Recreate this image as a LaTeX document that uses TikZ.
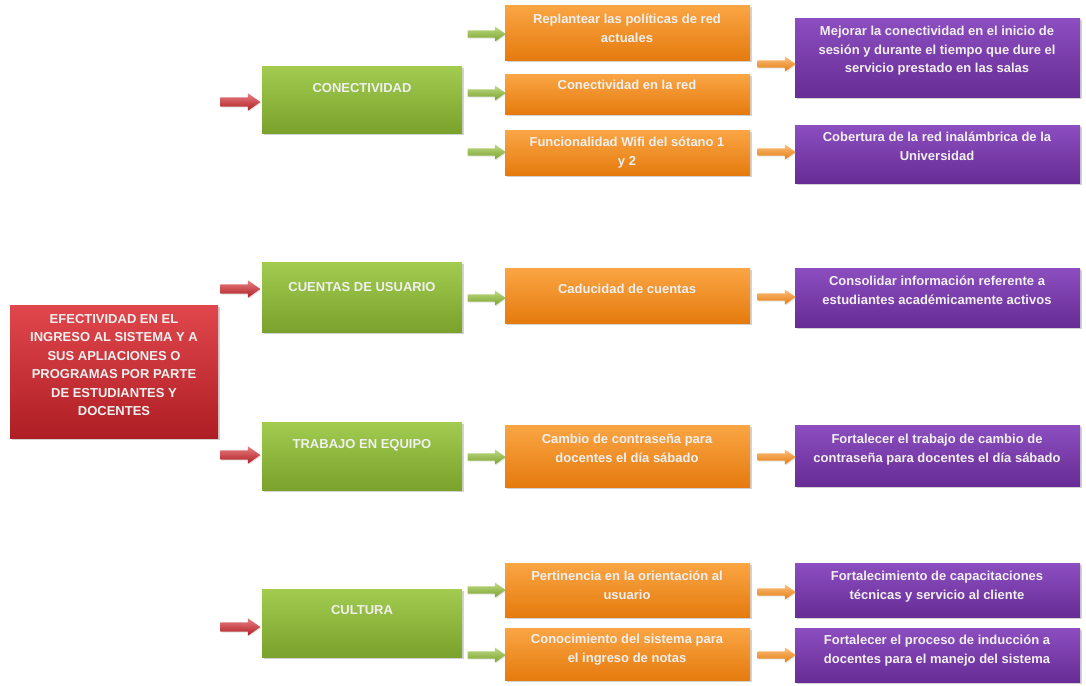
\documentclass[tikz,border=0pt]{standalone}
\usepackage{fontspec}
\setmainfont{Liberation Sans}
\usetikzlibrary{shapes.arrows,shadows}
\definecolor{redA}{HTML}{E0474C}
\definecolor{redB}{HTML}{AE1E24}
\definecolor{grnA}{HTML}{A2CB50}
\definecolor{grnB}{HTML}{7AA22C}
\definecolor{orgA}{HTML}{FAA544}
\definecolor{orgB}{HTML}{E57B0E}
\definecolor{purA}{HTML}{8C4EC0}
\definecolor{purB}{HTML}{672C95}
\tikzset{
  box/.style={rectangle, inner sep=0pt, anchor=north west,
    drop shadow={opacity=0.35, shadow xshift=2pt, shadow yshift=-2pt}},
  redbox/.style={box, top color=redA, bottom color=redB},
  grnbox/.style={box, top color=grnA, bottom color=grnB},
  orgbox/.style={box, top color=orgA, bottom color=orgB},
  purbox/.style={box, top color=purA, bottom color=purB},
  txt/.style={font=\bfseries\fontsize{13}{18.5}\selectfont, text=white!94!black,
    align=center, anchor=north, inner sep=0pt},
  arr/.style={single arrow, inner xsep=0pt, inner ysep=3.5pt, minimum height=38pt,
    single arrow head extend=3.8pt, single arrow head indent=0pt,
    single arrow tip angle=70, anchor=center,
    drop shadow={opacity=0.2, shadow xshift=1pt, shadow yshift=-1pt}},
  redarr/.style={arr, inner ysep=4.5pt, minimum height=40pt, single arrow head extend=4pt,
    top color=redA!70, bottom color=redB},
  grnarr/.style={arr, top color=grnA!70, bottom color=grnB},
  orgarr/.style={arr, top color=orgA!70, bottom color=orgB},
}
\begin{document}
\begin{tikzpicture}[x=1pt,y=-1pt]
\useasboundingbox[fill=white] (0,0) rectangle (1086,685);

% main red box
\node[redbox, minimum width=208pt, minimum height=133pt] (main) at (10,305) {};
\node[txt] (maint) at (114,314) {EFECTIVIDAD EN EL\\INGRESO AL SISTEMA Y A\\SUS APLIACIONES O\\PROGRAMAS POR PARTE\\DE ESTUDIANTES Y\\DOCENTES};

% green boxes
\node[grnbox, minimum width=200pt, minimum height=67pt] (g1) at (262,66) {};
\node[txt] (g1t) at (362,83) {CONECTIVIDAD};
\node[grnbox, minimum width=200pt, minimum height=70pt] (g2) at (262,262) {};
\node[txt] (g2t) at (362,282) {CUENTAS DE USUARIO};
\node[grnbox, minimum width=200pt, minimum height=68pt] (g3) at (262,422) {};
\node[txt] (g3t) at (362,439) {TRABAJO EN EQUIPO};
\node[grnbox, minimum width=200pt, minimum height=68pt] (g4) at (262,589) {};
\node[txt] (g4t) at (362,605) {CULTURA};

% red arrows
\node[redarr] (ra1) at (237,102) {};
\node[redarr] (ra2) at (237,289) {};
\node[redarr] (ra3) at (237,455) {};
\node[redarr] (ra4) at (237,627) {};

% orange boxes
\node[orgbox, minimum width=245pt, minimum height=55pt] (o1) at (505,5) {};
\node[txt] (o1t) at (627,14) {Replantear las políticas de red\\actuales};
\node[orgbox, minimum width=245pt, minimum height=40pt] (o2) at (505,74) {};
\node[txt] (o2t) at (627,80) {Conectividad en la red};
\node[orgbox, minimum width=245pt, minimum height=45pt] (o3) at (505,130) {};
\node[txt] (o3t) at (627,137) {Funcionalidad Wifi del sótano 1\\y 2};
\node[orgbox, minimum width=245pt, minimum height=55pt] (o4) at (505,268) {};
\node[txt] (o4t) at (627,284) {Caducidad de cuentas};
\node[orgbox, minimum width=245pt, minimum height=62pt] (o5) at (505,425) {};
\node[txt] (o5t) at (627,434) {Cambio de contraseña para\\docentes el día sábado};
\node[orgbox, minimum width=245pt, minimum height=54pt] (o6) at (505,563) {};
\node[txt] (o6t) at (627,571) {Pertinencia en la orientación al\\usuario};
\node[orgbox, minimum width=245pt, minimum height=52pt] (o7) at (505,628) {};
\node[txt] (o7t) at (627,634) {Conocimiento del sistema para\\el ingreso de notas};

% green arrows
\node[grnarr] (ga1) at (484,34) {};
\node[grnarr] (ga2) at (484,93) {};
\node[grnarr] (ga3) at (484,152) {};
\node[grnarr] (ga4) at (484,298) {};
\node[grnarr] (ga5) at (484,457) {};
\node[grnarr] (ga6) at (484,590) {};
\node[grnarr] (ga7) at (484,655) {};

% purple boxes
\node[purbox, minimum width=285pt, minimum height=79pt] (p1) at (795,18) {};
\node[txt] (p1t) at (937,26) {Mejorar la conectividad en el inicio de\\sesión y durante el tiempo que dure el\\servicio prestado en las salas};
\node[purbox, minimum width=285pt, minimum height=58pt] (p2) at (795,125) {};
\node[txt] (p2t) at (937,132) {Cobertura de la red inalámbrica de la\\Universidad};
\node[purbox, minimum width=285pt, minimum height=59pt] (p3) at (795,268) {};
\node[txt] (p3t) at (937,276) {Consolidar información referente a\\estudiantes académicamente activos};
\node[purbox, minimum width=285pt, minimum height=61pt] (p4) at (795,425) {};
\node[txt] (p4t) at (937,434) {Fortalecer el trabajo de cambio de\\contraseña para docentes el día sábado};
\node[purbox, minimum width=285pt, minimum height=54pt] (p5) at (795,563) {};
\node[txt] (p5t) at (937,571) {Fortalecimiento de capacitaciones\\técnicas y servicio al cliente};
\node[purbox, minimum width=285pt, minimum height=54pt] (p6) at (795,628) {};
\node[txt] (p6t) at (937,635) {Fortalecer el proceso de inducción a\\docentes para el manejo del sistema};

% orange arrows
\node[orgarr] (oa1) at (774,64) {};
\node[orgarr] (oa2) at (774,152) {};
\node[orgarr] (oa3) at (774,297) {};
\node[orgarr] (oa4) at (774,457) {};
\node[orgarr] (oa5) at (774,592) {};
\node[orgarr] (oa6) at (774,655) {};
\end{tikzpicture}
\end{document}
